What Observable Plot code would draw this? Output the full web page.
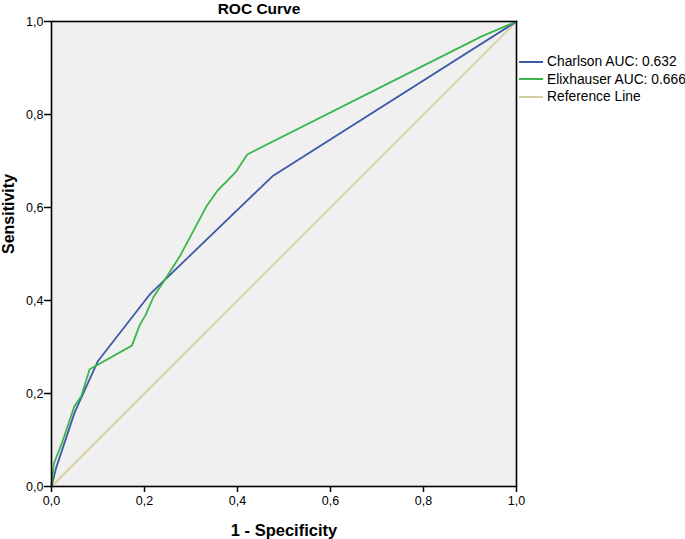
<!DOCTYPE html>
<html>
<head>
<meta charset="utf-8">
<script src="https://cdn.jsdelivr.net/npm/d3@7"></script>
<script src="https://cdn.jsdelivr.net/npm/@observablehq/plot@0.6"></script>
<style>
  body { margin: 0; background: #fff; font-family: "Liberation Sans", Arial, sans-serif; }
  #wrap { position: relative; width: 685px; height: 539px; overflow: hidden; }
  #legend { position: absolute; left: 519px; top: 53px; font-size: 13.8px; color: #000; white-space: nowrap; width: 170px; }
  #legend .row { display: flex; align-items: center; height: 17.5px; white-space: nowrap; }
  #legend .sw { width: 24px; height: 2px; margin-right: 4px; flex: none; }
</style>
</head>
<body>
<div id="wrap"></div>
<script>
const title = "ROC Curve";
const xLabel = "1 - Specificity";
const yLabel = "Sensitivity";
const ticks = [0, 0.2, 0.4, 0.6, 0.8, 1.0];

const seriesNames = ["Charlson AUC: 0.632", "Elixhauser AUC: 0.666", "Reference Line"];
const seriesColors = ["#3d59a8", "#3cb54a", "#d5cf9f"];

const charlsonFpr = [0, 0.01, 0.05, 0.1, 0.213, 0.475, 1];
const charlsonTpr = [0, 0.04, 0.16, 0.27, 0.415, 0.667, 1];

const elixFpr = [0, 0.005, 0.023, 0.049, 0.064, 0.082, 0.173, 0.19, 0.202, 0.219, 0.245, 0.277, 0.333, 0.356, 0.396, 0.421, 0.925, 1];
const elixTpr = [0, 0.049, 0.095, 0.172, 0.194, 0.252, 0.303, 0.348, 0.368, 0.407, 0.447, 0.497, 0.602, 0.635, 0.676, 0.714, 0.968, 1];

const refFpr = [0, 1];
const refTpr = [0, 1];

const toRows = (xs, ys, s) => xs.map((x, i) => ({x, y: ys[i], s}));
const rows = [
  ...toRows(refFpr, refTpr, seriesNames[2]),
  ...toRows(charlsonFpr, charlsonTpr, seriesNames[0]),
  ...toRows(elixFpr, elixTpr, seriesNames[1])
];

const fmt = d => d.toFixed(1).replace(".", ",");

const chart = Plot.plot({
  width: 685,
  height: 539,
  marginLeft: 51,
  marginRight: 169,
  marginTop: 21,
  marginBottom: 53,
  style: { fontFamily: "'Liberation Sans', Arial, sans-serif", fontSize: "12px", color: "#000", background: "#fff" },
  x: { domain: [0, 1] },
  y: { domain: [0, 1] },
  color: { domain: seriesNames, range: seriesColors },
  marks: [
    Plot.frame({ fill: "#f0f0f0", stroke: null }),
    Plot.line(rows, { x: "x", y: "y", z: "s", stroke: "s", strokeWidth: 1.8 }),
    Plot.frame({ stroke: "#000", strokeWidth: 1.6 }),
    Plot.axisX({ ticks, tickFormat: fmt, tickSize: 6, tickPadding: 4, label: null, stroke: "#000", strokeWidth: 1.5, fontSize: 12.5 }),
    Plot.axisY({ ticks, tickFormat: fmt, tickSize: 7, tickPadding: 1, label: null, stroke: "#000", strokeWidth: 1.5, fontSize: 12.5 }),
    Plot.text([title], { frameAnchor: "top", lineAnchor: "middle", dy: -12, dx: -25, fontSize: 15.5, fontWeight: "bold", text: d => d }),
    Plot.text([xLabel], { frameAnchor: "bottom", lineAnchor: "middle", dy: 44, fontSize: 16.5, fontWeight: "bold", text: d => d }),
    Plot.text([yLabel], { frameAnchor: "left", dx: -43, rotate: -90, fontSize: 16, fontWeight: "bold", text: d => d })
  ]
});

const wrap = document.getElementById("wrap");
wrap.appendChild(chart);

const legend = document.createElement("div");
legend.id = "legend";
seriesNames.forEach((n, i) => {
  const row = document.createElement("div");
  row.className = "row";
  const sw = document.createElement("span");
  sw.className = "sw";
  sw.style.background = seriesColors[i];
  const t = document.createElement("span");
  t.textContent = n;
  row.appendChild(sw);
  row.appendChild(t);
  legend.appendChild(row);
});
wrap.appendChild(legend);
</script>
</body>
</html>
